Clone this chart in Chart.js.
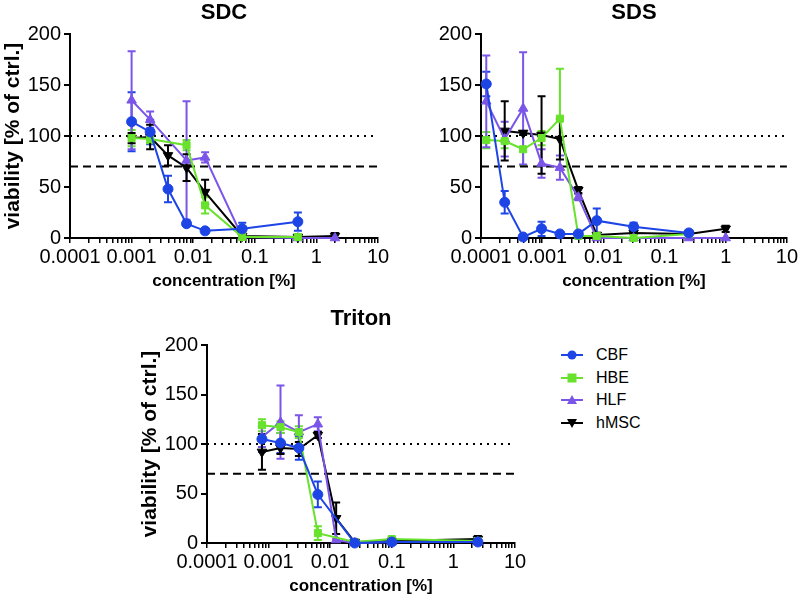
<!DOCTYPE html>
<html>
<head>
<meta charset="utf-8">
<script src="https://cdn.jsdelivr.net/npm/chart.js@4/dist/chart.umd.min.js"></script>
<style>
  body{margin:0;background:#fff;font-family:"Liberation Sans",Arial,sans-serif}
  #wrap{position:relative;width:800px;height:599px;overflow:hidden}
  canvas{position:absolute}
  #legend{position:absolute;left:561px;top:344px}
  #legend div{height:22.6px;display:flex;align-items:center;font-size:16px;color:#000}
  #legend svg{margin-right:13px}
</style>
</head>
<body>
<div id="wrap">
  <canvas id="sdc" width="400" height="294" style="left:0;top:0;width:400px;height:294px"></canvas>
  <canvas id="sds" width="390" height="294" style="left:410px;top:0;width:390px;height:294px"></canvas>
  <canvas id="triton" width="400" height="293" style="left:137px;top:306px;width:400px;height:293px"></canvas>
  <div id="legend"></div>
</div>
<script>
/* cell types + look */
const seriesNames = ['CBF','HBE','HLF','hMSC'];
const seriesColors = ['#1d45e6','#68e22c','#7a55e8','#000000'];
const seriesStyles = ['circle','rect','triangle','triangle'];
const seriesRot = [0,0,0,180];
const seriesRadius = [5,5,5.5,5.5];

/* x axis (log) */
const xMin = 0.0001, xMax = 10;
const xTickLabels = ['0.0001','0.001','0.01','0.1','1','10'];
const refLevels = [100, 70];   // dotted, dashed

/* SDC */
const sdcConc   = [0.001, 0.002, 0.0039, 0.0078, 0.0156, 0.0625, 0.5, 2];
const sdcCBF    = [114, 104, 48, 14, 7, 9, 16, null];
const sdcCBFsd  = [29, 12, 13, 2, 2, 6, 9, null];
const sdcHBE    = [98, 97, null, 91, 32, 1, 1, null];
const sdcHBEsd  = [8, 4, null, 5, 8, 1, 1, null];
const sdcHLF    = [135, 116, null, 76, 79, 1, 0, 0];
const sdcHLFsd  = [48, 8, null, 58, 5, 1, 0, 0];
const sdcMSC    = [98, 99, 81, 69, 45, 2, 1, 2];
const sdcMSCsd  = [5, 12, 10, 13, 12, 1, 1, 3];

/* SDS */
const sdsConc   = [0.000122, 0.000244, 0.000488, 0.000977, 0.00195, 0.0039, 0.0078, 0.03125, 0.25, 1];
const sdsCBF    = [151, 35, 1, 9, 4, 4, 17, 11, 5, null];
const sdsCBFsd  = [12, 11, 1, 7, 1, 1, 12, 4, 1, null];
const sdsHBE    = [96, 95, 87, 98, 117, 2, 2, 0, 4, null];
const sdsHBEsd  = [8, 7, 16, 7, 49, 1, 1, 0, 1, null];
const sdsHLF    = [134, 97, 127, 73, 69, 40, 0, 0, 0, 0];
const sdsHLFsd  = [45, 17, 55, 14, 12, 3, 0, 0, 0, 0];
const sdsMSC    = [null, 105, 103, 101, 97, 47, 3, 5, 4, 9];
const sdsMSCsd  = [null, 29, 2, 38, 20, 3, 1, 1, 1, 3];

/* Triton */
const triConc   = [0.00078, 0.00156, 0.0031, 0.0063, 0.0125, 0.025, 0.1, 2.5];
const triCBF    = [105, 101, 96, 49, null, 0, 1, 1];
const triCBFsd  = [13, 10, 12, 13, null, 1, 1, 1];
const triHBE    = [119, 117, 112, 10, null, 1, 4, 2];
const triHBEsd  = [6, 6, 6, 7, null, 1, 2, 1];
const triHLF    = [107, 122, 112, 120, 3, 0, 1, 1];
const triHLFsd  = [10, 37, 17, 7, 1, 0, 1, 1];
const triMSC    = [92, 96, 95, 109, 25, 1, 2, 4];
const triMSCsd  = [18, 6, 7, 3, 16, 1, 1, 3];

const FONT = '"Liberation Sans", Arial, sans-serif';

// mean +- sd bars with caps, under the lines
const errorBars = {
  id:'errorBars',
  beforeDatasetsDraw(chart){
    const ctx = chart.ctx, y = chart.scales.y;
    chart.data.datasets.forEach((ds,i)=>{
      if(!ds.errorBars) return;
      const meta = chart.getDatasetMeta(i);
      ctx.save();
      ctx.strokeStyle = ds.borderColor; ctx.lineWidth = 2;
      meta.data.forEach((el,j)=>{
        const d = ds.data[j];
        if(!d.sd) return;
        const top = y.getPixelForValue(d.y + d.sd);
        const bot = y.getPixelForValue(Math.max(d.y - d.sd, 0));
        ctx.beginPath();
        ctx.moveTo(el.x, top); ctx.lineTo(el.x, bot);
        ctx.moveTo(el.x-4, top); ctx.lineTo(el.x+4, top);
        ctx.moveTo(el.x-4, bot); ctx.lineTo(el.x+4, bot);
        ctx.stroke();
      });
      ctx.restore();
    });
  }
};

function pts(conc, vals, sd){
  return conc.map((c,i)=> vals[i]==null ? null : {x:c, y:vals[i], sd:sd[i]}).filter(Boolean);
}

// 1..9 x 10^e minor/major positions
const xTickValues = [];
for(let e=-4;e<=0;e++) for(let m=1;m<=9;m++) xTickValues.push(Number((m*Math.pow(10,e)).toPrecision(6)));
xTickValues.push(10);

function panel(id, title, conc, vals, sds, opt){
  const datasets = seriesNames.map((name,k)=>({
    label:name,
    data: pts(conc, vals[k], sds[k]),
    borderColor: seriesColors[k], backgroundColor: seriesColors[k],
    pointBorderColor: seriesColors[k], pointBackgroundColor: seriesColors[k],
    borderWidth: 2, pointStyle: seriesStyles[k], pointRotation: seriesRot[k],
    pointRadius: seriesRadius[k], pointBorderWidth: 1,
    tension: 0, clip: false, errorBars: true, order: k
  }));
  refLevels.forEach((lv,k)=> datasets.push({
    label:'', data:[{x:xMin,y:lv},{x:xMax,y:lv}],
    borderColor:'#000', borderWidth:2, borderDash: k===0 ? [2,5] : [8,5],
    pointRadius:0, order:10, clip:false
  }));

  return new Chart(document.getElementById(id), {
    type:'line',
    data:{datasets},
    plugins:[errorBars],
    options:{
      responsive:false, animation:false, devicePixelRatio:1,
      layout:{padding:{left:0, right:opt.padRight, top:0, bottom:0}},
      plugins:{
        legend:{display:false}, tooltip:{enabled:false},
        title:{display:true, text:title, color:'#000', fullSize:false,
               font:{family:FONT, size:22, weight:'bold'}, padding:{top:0, bottom:opt.titleBottom}}
      },
      scales:{
        x:{
          type:'logarithmic', min:xMin, max:xMax,
          afterBuildTicks: s => { s.ticks = xTickValues.map(v=>({value:v})); },
          afterFit: s => { s.height = 56; },
          border:{color:'#000', width:2},
          grid:{drawOnChartArea:false, color:'#000', lineWidth:1.5, tickLength:5},
          ticks:{autoSkip:false, maxRotation:0, color:'#000', padding:2,
                 font:{family:FONT, size:20},
                 callback: v => { const lg = Math.log10(v); return Math.abs(lg-Math.round(lg))<1e-6 ? xTickLabels[Math.round(lg)+4] : ''; }},
          title:{display:true, text:'concentration [%]', color:'#000',
                 font:{family:FONT, size:17, weight:'bold'}, padding:{top:0,bottom:2}}
        },
        y:{
          min:0, max:200,
          afterFit: s => { s.width = opt.yWidth; },
          border:{color:'#000', width:2},
          grid:{drawOnChartArea:false, color:'#000', lineWidth:2, tickLength:6},
          ticks:{stepSize:50, color:'#000', padding:3, font:{family:FONT, size:20}},
          title:{display:opt.yTitle, text:'viability [% of ctrl.]', color:'#000',
                 font:{family:FONT, size:21, weight:'bold'}, padding:{top:1,bottom:0}}
        }
      }
    }
  });
}

panel('sdc', 'SDC', sdcConc, [sdcCBF,sdcHBE,sdcHLF,sdcMSC], [sdcCBFsd,sdcHBEsd,sdcHLFsd,sdcMSCsd],
      {padRight:22, yWidth:70, yTitle:true, titleBottom:7.6});
panel('sds', 'SDS', sdsConc, [sdsCBF,sdsHBE,sdsHLF,sdsMSC], [sdsCBFsd,sdsHBEsd,sdsHLFsd,sdsMSCsd],
      {padRight:12, yWidth:71, yTitle:false, titleBottom:7.6});
panel('triton', 'Triton', triConc, [triCBF,triHBE,triHLF,triMSC], [triCBFsd,triHBEsd,triHLFsd,triMSCsd],
      {padRight:22, yWidth:70, yTitle:true, titleBottom:12.6});

// legend
const shapeSvg = k => {
  const c = seriesColors[k];
  let m;
  if(k===0) m = `<circle cx="11" cy="6" r="4.5" fill="${c}"/>`;
  else if(k===1) m = `<rect x="6.5" y="1.5" width="9" height="9" fill="${c}"/>`;
  else if(k===2) m = `<polygon points="11,1 16,10 6,10" fill="${c}"/>`;
  else m = `<polygon points="11,11 16,2 6,2" fill="${c}"/>`;
  return `<svg width="22" height="12"><line x1="0" y1="6" x2="22" y2="6" stroke="${c}" stroke-width="2"/>${m}</svg>`;
};
document.getElementById('legend').innerHTML =
  seriesNames.map((n,k)=>`<div>${shapeSvg(k)}<span>${n}</span></div>`).join('');
</script>
</body>
</html>
